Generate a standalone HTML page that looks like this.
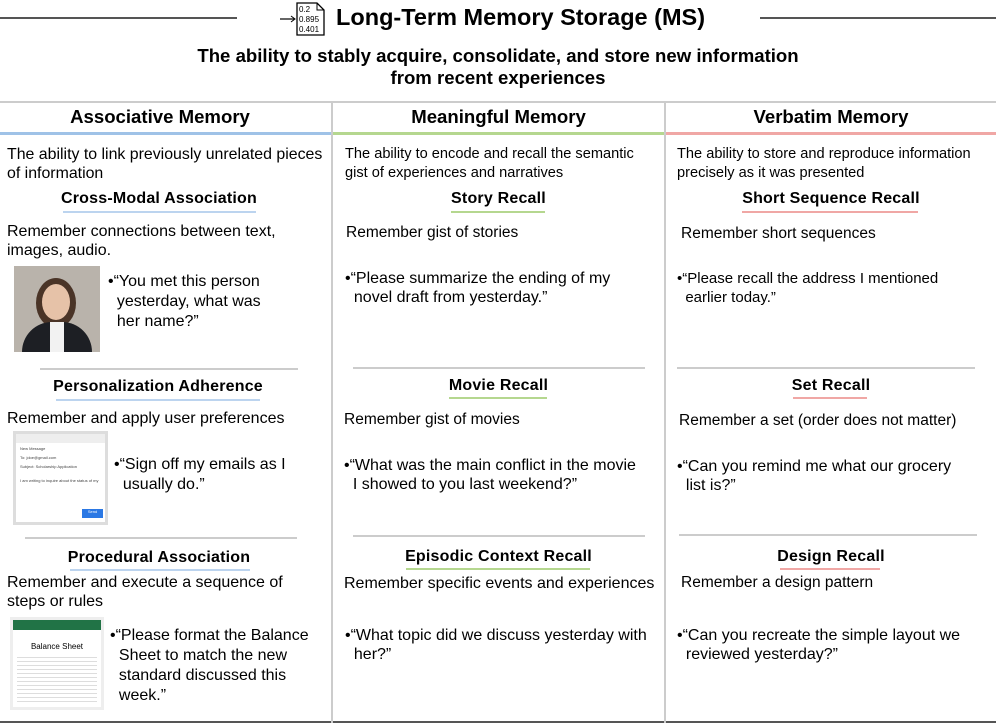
<!DOCTYPE html>
<html><head><meta charset="utf-8">
<style>
*{margin:0;padding:0;box-sizing:border-box}
body{width:996px;height:724px;background:#fff;font-family:"Liberation Sans",Arial,sans-serif;color:#000;position:relative;overflow:hidden}
.a{position:absolute}
.hl{position:absolute;height:2px;background:#555}
.t{position:absolute;font-size:15.5px;line-height:19px;white-space:nowrap}
.b{font-weight:bold}
.sub{position:absolute;font-size:16px;font-weight:bold;text-align:center;white-space:nowrap;letter-spacing:0.2px}
.sep{position:absolute;height:2px;background:#ccc}
.ul{position:absolute;height:2px}
</style></head><body>
<div class="hl" style="left:0;top:17px;width:237px"></div>
<div class="hl" style="left:760px;top:17px;width:236px"></div>
<div class="a" style="left:279px;top:2px;width:50px;height:34px">
<svg width="50" height="34"><line x1="1" y1="17" x2="15" y2="17" stroke="#000" stroke-width="1.2"/><path d="M12 14 L16 17 L12 20" fill="none" stroke="#000"/>
<path d="M18 1 H38 L45 8 V33 H18 Z" fill="#fff" stroke="#000" stroke-width="1.3"/><path d="M38 1 V8 H45" fill="none" stroke="#000"/>
<text x="20" y="10" font-size="8" font-family="Liberation Sans">0.2</text><text x="20" y="20" font-size="8" font-family="Liberation Sans">0.895</text><text x="20" y="30" font-size="8" font-family="Liberation Sans">0.401</text></svg></div>
<div class="t b" style="left:336px;top:4px;font-size:23.5px;line-height:27px">Long-Term Memory Storage (MS)</div>
<div class="a b" style="left:0;top:45px;width:996px;text-align:center;font-size:18.6px;line-height:22px">The ability to stably acquire, consolidate, and store new information<br>from recent experiences</div>

<div class="a" style="left:0;top:101px;width:996px;height:2px;background:#ccc"></div>
<div class="a" style="left:0;top:721px;width:996px;height:2px;background:#555"></div>
<div class="a" style="left:331px;top:101px;width:2px;height:622px;background:#ccc"></div>
<div class="a" style="left:664px;top:101px;width:2px;height:622px;background:#ccc"></div>

<div class="a b" style="left:0;top:106px;width:320px;text-align:center;font-size:18.6px">Associative Memory</div>
<div class="a b" style="left:333px;top:106px;width:331px;text-align:center;font-size:18.6px">Meaningful Memory</div>
<div class="a b" style="left:666px;top:106px;width:330px;text-align:center;font-size:18.6px">Verbatim Memory</div>
<div class="ul" style="left:0;top:132px;width:331px;height:3px;background:#9fc2e7"></div>
<div class="ul" style="left:333px;top:132px;width:331px;height:3px;background:#b5d78f"></div>
<div class="ul" style="left:666px;top:132px;width:330px;height:3px;background:#f0a7a5"></div>

<!-- column 1 -->
<div class="t" style="left:7px;top:145px;font-size:15.9px">The ability to link previously unrelated pieces<br>of information</div>
<div class="sub" style="left:0;top:190px;width:318px">Cross-Modal Association</div>
<div class="ul" style="left:63px;top:211px;width:193px;background:#bcd4ef"></div>
<div class="t" style="left:7px;top:222px;font-size:16px">Remember connections between text,<br>images, audio.</div>
<div class="a" style="left:14px;top:266px;width:86px;height:86px;background:#b9b3ab;overflow:hidden">
<div class="a" style="left:22px;top:12px;width:40px;height:50px;border-radius:50%;background:#4a3427"></div>
<div class="a" style="left:28px;top:18px;width:28px;height:36px;border-radius:50%;background:#e6c2a8"></div>
<div class="a" style="left:8px;top:56px;width:70px;height:40px;border-radius:30px 30px 0 0;background:#1d1f24"></div>
<div class="a" style="left:36px;top:56px;width:14px;height:30px;background:#f2f2f2"></div></div>
<div class="t" style="left:108px;top:272px;font-size:16px;line-height:20px">•“You met this person<br>&nbsp;&nbsp;yesterday, what was<br>&nbsp;&nbsp;her name?”</div>
<div class="sep" style="left:40px;top:368px;width:258px"></div>
<div class="sub" style="left:0;top:378px;width:316px">Personalization Adherence</div>
<div class="ul" style="left:56px;top:399px;width:204px;background:#bcd4ef"></div>
<div class="t" style="left:7px;top:409px;font-size:16px">Remember and apply user preferences</div>
<div class="a" style="left:13px;top:431px;width:95px;height:94px;background:#ddd;padding:3px">
<div style="width:89px;height:88px;background:#fff;position:relative;font-size:4px;color:#444">
<div class="a" style="left:0;top:0;width:89px;height:9px;background:#eee"></div>
<div class="a" style="left:4px;top:12px">New Message</div><div class="a" style="left:4px;top:21px">To: jdoe@gmail.com</div><div class="a" style="left:4px;top:30px">Subject: Scholarship Application</div><div class="a" style="left:4px;top:44px">I am writing to inquire about the status of my</div>
<div class="a" style="left:66px;top:75px;width:21px;height:9px;background:#2b78e4;color:#fff;text-align:center">Send</div></div></div>
<div class="t" style="left:114px;top:455px;font-size:16px;line-height:20px">•“Sign off my emails as I<br>&nbsp;&nbsp;usually do.”</div>
<div class="sep" style="left:25px;top:537px;width:272px"></div>
<div class="sub" style="left:0;top:549px;width:318px">Procedural Association</div>
<div class="ul" style="left:70px;top:569px;width:180px;background:#bcd4ef"></div>
<div class="t" style="left:7px;top:573px;font-size:16px">Remember and execute a sequence of<br>steps or rules</div>
<div class="a" style="left:10px;top:617px;width:94px;height:93px;background:#eee;padding:3px">
<div style="width:88px;height:87px;background:#fff;position:relative">
<div class="a" style="left:0;top:0;width:88px;height:10px;background:#217346"></div>
<div class="a" style="left:0;top:22px;width:88px;text-align:center;font-size:8px">Balance Sheet</div>
<div class="a" style="left:4px;top:34px;width:80px;height:48px;background:repeating-linear-gradient(#fff 0 3px,#ddd 3px 4px)"></div></div></div>
<div class="t" style="left:110px;top:626px;font-size:16px;line-height:20px">•“Please format the Balance<br>&nbsp;&nbsp;Sheet to match the new<br>&nbsp;&nbsp;standard discussed this<br>&nbsp;&nbsp;week.”</div>

<!-- column 2 -->
<div class="t" style="left:345px;top:145px;font-size:14.6px;line-height:19px">The ability to encode and recall the semantic<br>gist of experiences and narratives</div>
<div class="sub" style="left:333px;top:190px;width:331px">Story Recall</div>
<div class="ul" style="left:451px;top:211px;width:94px;background:#b5d78f"></div>
<div class="t" style="left:346px;top:223px">Remember gist of stories</div>
<div class="t" style="left:345px;top:269px;font-size:16px">•“Please summarize the ending of my<br>&nbsp;&nbsp;novel draft from yesterday.”</div>
<div class="sep" style="left:353px;top:367px;width:292px"></div>
<div class="sub" style="left:333px;top:377px;width:331px">Movie Recall</div>
<div class="ul" style="left:449px;top:397px;width:98px;background:#b5d78f"></div>
<div class="t" style="left:344px;top:410px">Remember gist of movies</div>
<div class="t" style="left:344px;top:456px;font-size:16px">•“What was the main conflict in the movie<br>&nbsp;&nbsp;I showed to you last weekend?”</div>
<div class="sep" style="left:353px;top:535px;width:292px"></div>
<div class="sub" style="left:333px;top:548px;width:331px">Episodic Context Recall</div>
<div class="ul" style="left:406px;top:568px;width:184px;background:#b5d78f"></div>
<div class="t" style="left:344px;top:574px;font-size:16px">Remember specific events and experiences</div>
<div class="t" style="left:345px;top:626px;font-size:16px">•“What topic did we discuss yesterday with<br>&nbsp;&nbsp;her?”</div>

<!-- column 3 -->
<div class="t" style="left:677px;top:145px;font-size:14.6px;line-height:19px">The ability to store and reproduce information<br>precisely as it was presented</div>
<div class="sub" style="left:666px;top:190px;width:330px">Short Sequence Recall</div>
<div class="ul" style="left:742px;top:211px;width:176px;background:#f0a7a5"></div>
<div class="t" style="left:681px;top:224px">Remember short sequences</div>
<div class="t" style="left:677px;top:269px;font-size:15px">•“Please recall the address I mentioned<br>&nbsp;&nbsp;earlier today.”</div>
<div class="sep" style="left:677px;top:367px;width:298px"></div>
<div class="sub" style="left:666px;top:377px;width:330px">Set Recall</div>
<div class="ul" style="left:793px;top:397px;width:74px;background:#f0a7a5"></div>
<div class="t" style="left:679px;top:411px">Remember a set (order does not matter)</div>
<div class="t" style="left:677px;top:457px;font-size:16px">•“Can you remind me what our grocery<br>&nbsp;&nbsp;list is?”</div>
<div class="sep" style="left:679px;top:534px;width:298px"></div>
<div class="sub" style="left:666px;top:548px;width:330px">Design Recall</div>
<div class="ul" style="left:780px;top:568px;width:100px;background:#f0a7a5"></div>
<div class="t" style="left:681px;top:573px">Remember a design pattern</div>
<div class="t" style="left:677px;top:626px;font-size:16px">•“Can you recreate the simple layout we<br>&nbsp;&nbsp;reviewed yesterday?”</div>
</body></html>
